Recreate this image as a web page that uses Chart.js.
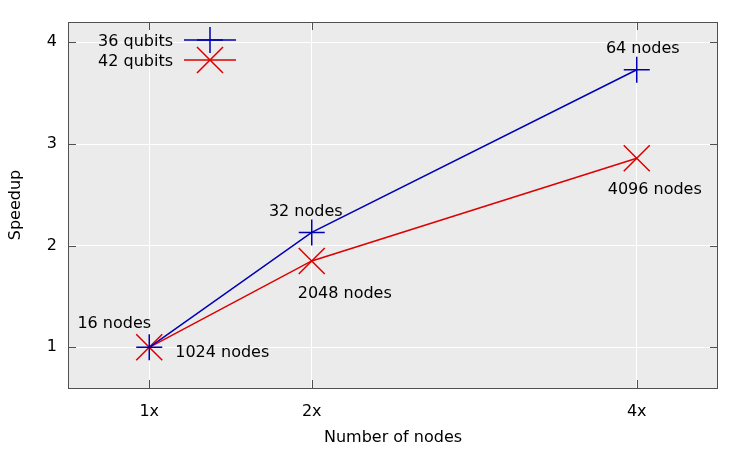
<!DOCTYPE html>
<html>
<head>
<meta charset="utf-8">
<script src="https://cdn.jsdelivr.net/npm/chart.js@4/dist/chart.umd.min.js"></script>
<style>
  html, body { margin: 0; padding: 0; background: #ffffff; }
  #wrap { width: 750px; height: 450px; }
</style>
</head>
<body>
<div id="wrap"><canvas id="c" width="750" height="450"></canvas></div>
<script>
// ---- data ----
const xValues = [1, 2, 4];
const xTickValues = [1, 2, 4];
const xTickLabels = ['1x', '2x', '4x'];
const yTickValues = [1, 2, 3, 4];
const seriesNames = ['36 qubits', '42 qubits'];
const speedup36 = [1, 2.13, 3.73];
const speedup42 = [1, 1.85, 2.86];
const nodeLabels36 = ['16 nodes', '32 nodes', '64 nodes'];
const nodeLabels42 = ['1024 nodes', '2048 nodes', '4096 nodes'];

// ---- styles ----
const FONT = 'DejaVu Sans';
const BLUE = '#0000b4';
const RED = '#dc0000';
const BORDER = '#505050';
// label offsets (pixels) relative to each point
const offsets36 = [[-35, -23], [-6, -21], [6, -21]];
const offsets42 = [[73, 6], [33, 33], [18, 32]];

const ds36 = {
  label: seriesNames[0],
  data: xValues.map((x, i) => ({x: x, y: speedup36[i]})),
  borderColor: BLUE, backgroundColor: BLUE, borderWidth: 1.5,
  pointStyle: 'cross', pointRadius: 13, pointHoverRadius: 13,
  pointBorderWidth: 1.5, pointBorderColor: BLUE,
  nodeLabels: nodeLabels36, labelOffsets: offsets36
};
const ds42 = {
  label: seriesNames[1],
  data: xValues.map((x, i) => ({x: x, y: speedup42[i]})),
  borderColor: RED, backgroundColor: RED, borderWidth: 1.5,
  pointStyle: 'crossRot', pointRadius: 18.4, pointHoverRadius: 18.4,
  pointBorderWidth: 1.5, pointBorderColor: RED,
  nodeLabels: nodeLabels42, labelOffsets: offsets42
};

const gnuplotPlugin = {
  id: 'gnuplotLook',
  beforeDraw(chart) {
    const {ctx, chartArea: a} = chart;
    ctx.save();
    ctx.fillStyle = '#ebebeb';
    ctx.fillRect(a.left, a.top, a.right - a.left, a.bottom - a.top);
    ctx.restore();
  },
  afterDatasetsDraw(chart) {
    const {ctx, chartArea: a} = chart;
    const xs = chart.scales.x, ys = chart.scales.y;
    ctx.save();
    // border
    ctx.strokeStyle = BORDER;
    ctx.lineWidth = 1;
    ctx.strokeRect(Math.round(a.left) + 0.5, Math.round(a.top) + 0.5,
                   Math.round(a.right - a.left) - 1, Math.round(a.bottom - a.top));
    // inward ticks, mirrored
    const TL = 8;
    ctx.beginPath();
    xTickValues.forEach(v => {
      const px = Math.round(xs.getPixelForValue(v)) + 0.5;
      ctx.moveTo(px, a.bottom); ctx.lineTo(px, a.bottom - TL);
      ctx.moveTo(px, a.top); ctx.lineTo(px, a.top + TL);
    });
    yTickValues.forEach(v => {
      const py = Math.round(ys.getPixelForValue(v)) + 0.5;
      ctx.moveTo(a.left, py); ctx.lineTo(a.left + TL, py);
      ctx.moveTo(a.right, py); ctx.lineTo(a.right - TL, py);
    });
    ctx.stroke();

    // point labels
    ctx.fillStyle = '#000';
    ctx.font = '16px "' + FONT + '"';
    ctx.textAlign = 'center';
    ctx.textBaseline = 'middle';
    chart.data.datasets.forEach((ds, di) => {
      const meta = chart.getDatasetMeta(di);
      meta.data.forEach((pt, i) => {
        const o = ds.labelOffsets[i];
        ctx.fillText(ds.nodeLabels[i], pt.x + o[0], pt.y + o[1]);
      });
    });

    // legend (gnuplot style: text right-aligned, then sample line + marker)
    const lx = a.left + 105, ly0 = a.top + 18, lh = 20;
    chart.data.datasets.forEach((ds, di) => {
      const y = ly0 + di * lh;
      ctx.textAlign = 'right';
      ctx.fillStyle = '#000';
      ctx.fillText(ds.label, lx, y + 1.5);
      ctx.strokeStyle = ds.borderColor;
      ctx.lineWidth = 1.5;
      ctx.beginPath();
      ctx.moveTo(lx + 11, y); ctx.lineTo(lx + 63, y);
      ctx.stroke();
      Chart.helpers.drawPoint(ctx, {
        pointStyle: ds.pointStyle, radius: ds.pointRadius, rotation: 0,
        borderWidth: ds.pointBorderWidth
      }, lx + 37, y);
    });
    ctx.restore();
  }
};

new Chart(document.getElementById('c'), {
  type: 'line',
  data: { datasets: [ds36, ds42] },
  options: {
    responsive: false,
    animation: false,
    devicePixelRatio: 1,
    layout: { padding: { left: 0, right: 32, top: 22, bottom: 0 } },
    plugins: { legend: { display: false }, tooltip: { enabled: false } },
    elements: { line: { tension: 0 } },
    scales: {
      x: {
        type: 'linear', min: 0.5, max: 4.5,
        afterBuildTicks: s => { s.ticks = xTickValues.map(v => ({value: v})); },
        afterFit: s => { s.height = 62; },
        grid: { color: '#ffffff', lineWidth: 1, drawTicks: false },
        border: { display: false },
        ticks: {
          padding: 14, color: '#000', font: { family: FONT, size: 16 },
          maxRotation: 0, autoSkip: false,
          callback: (v) => xTickLabels[xTickValues.indexOf(v)]
        },
        title: {
          display: true, text: 'Number of nodes', color: '#000',
          font: { family: FONT, size: 16 }, padding: { top: 0, bottom: 2.4 }
        }
      },
      y: {
        type: 'linear', min: 0.6, max: 4.2,
        afterBuildTicks: s => { s.ticks = yTickValues.map(v => ({value: v})); },
        afterFit: s => { s.width = 68; },
        grid: { color: '#ffffff', lineWidth: 1, drawTicks: false },
        border: { display: false },
        ticks: {
          padding: 11, color: '#000', font: { family: FONT, size: 16 },
          callback: v => String(v)
        },
        title: {
          display: true, text: 'Speedup', color: '#000',
          font: { family: FONT, size: 16 }, padding: { top: 6.4, bottom: 0 }
        }
      }
    }
  },
  plugins: [gnuplotPlugin]
});
</script>
</body>
</html>
